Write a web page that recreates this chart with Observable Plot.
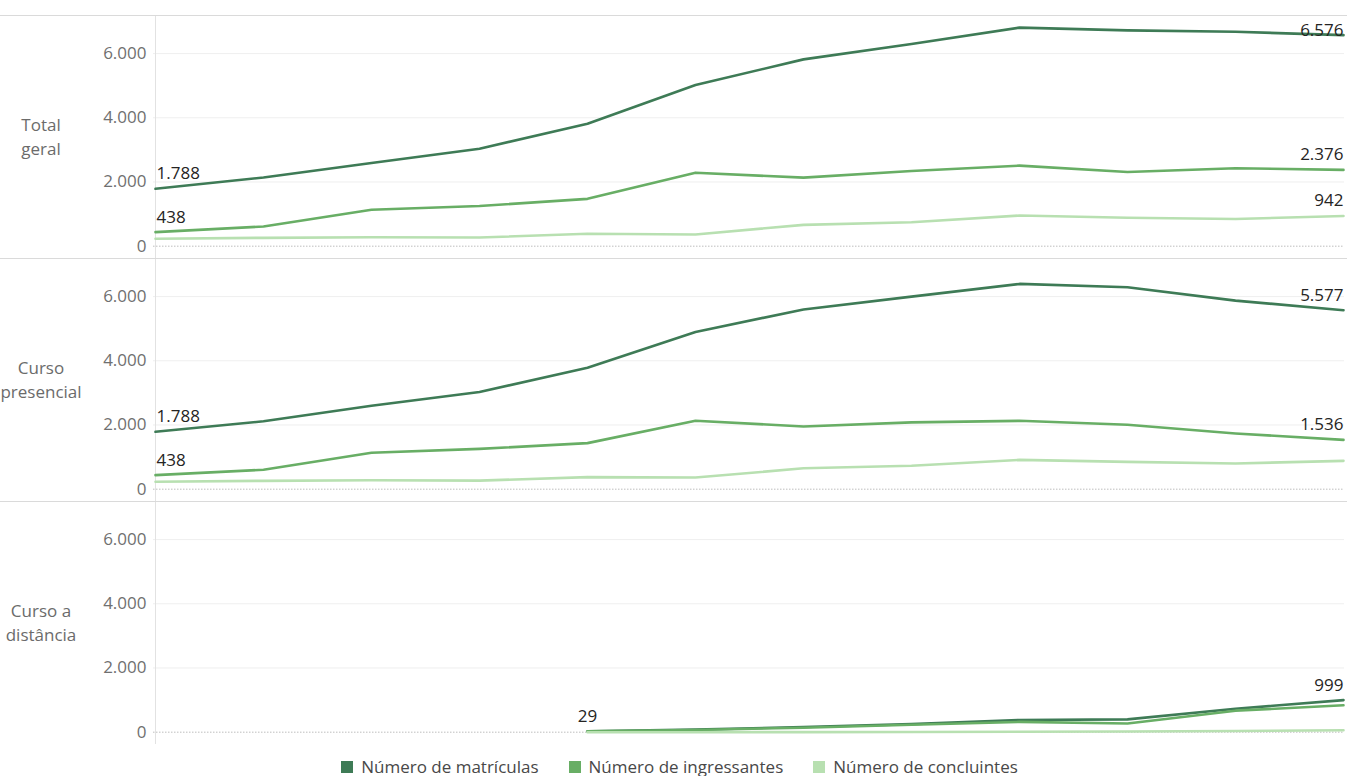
<!DOCTYPE html>
<html>
<head>
<meta charset="utf-8">
<script src="https://cdn.jsdelivr.net/npm/d3@7"></script>
<script src="https://cdn.jsdelivr.net/npm/@observablehq/plot@0.6"></script>
<style>
  html, body { margin: 0; padding: 0; background: #fff; }
  body { width: 1347px; height: 776px; overflow: hidden; font-family: "Open Sans", sans-serif; }
  #chart { padding-top: 15px; }
  .painel { position: relative; width: 1347px; height: 243px; }
  .painel .sep { position: absolute; top: 0; left: 0; width: 1347px; height: 1px; background: #dadada; z-index: 2; }
  .painel .rot { position: absolute; left: 0; width: 82px; top: 50%; transform: translateY(-50%); text-align: center; font-size: 17px; line-height: 24px; color: #6b6b6b; }
  .painel svg { position: absolute; top: 0; left: 0; }
  #legenda { display: flex; justify-content: center; align-items: center; margin-top: 12px; padding-left: 12px; font-size: 17px; color: #484848; line-height: 22px; }
  #legenda .item { display: flex; align-items: center; margin: 0 15px; }
  #legenda .q { width: 12px; height: 12px; margin-right: 8px; }
</style>
</head>
<body>
<div id="chart"></div>
<div id="legenda"></div>
<script>
// ---- dados ----
const anos = [2009, 2010, 2011, 2012, 2013, 2014, 2015, 2016, 2017, 2018, 2019, 2020];
const series = ["Número de matrículas", "Número de ingressantes", "Número de concluintes"];
const cores = ["#3e7b56", "#68ae65", "#b8e0b1"];
const paineis = ["Total geral", "Curso presencial", "Curso a distância"];
const rotulosPaineis = [["Total", "geral"], ["Curso", "presencial"], ["Curso a", "distância"]];

const totalMatriculas   = [1788, 2140, 2590, 3035, 3815, 5020, 5820, 6300, 6810, 6725, 6680, 6576];
const totalIngressantes = [438, 615, 1135, 1250, 1475, 2290, 2135, 2340, 2510, 2310, 2430, 2376];
const totalConcluintes  = [230, 260, 280, 270, 385, 365, 665, 745, 955, 885, 845, 942];

const presMatriculas   = [1788, 2115, 2600, 3030, 3780, 4900, 5600, 6000, 6395, 6290, 5875, 5577];
const presIngressantes = [438, 605, 1135, 1255, 1435, 2130, 1955, 2080, 2130, 2005, 1735, 1536];
const presConcluintes  = [230, 260, 280, 265, 375, 362, 650, 730, 912, 850, 800, 883];

const distMatriculas   = [null, null, null, null, 29, 80, 160, 250, 380, 400, 730, 999];
const distIngressantes = [null, null, null, null, 29, 70, 140, 230, 320, 270, 670, 840];
const distConcluintes  = [null, null, null, null, 0, 0, 2, 5, 15, 20, 35, 59];

const yTicks = [0, 2000, 4000, 6000];

// rótulos de dados exibidos: [painel, série, ano]
const rotulos = [
  ["Total geral", "Número de matrículas", 2009],
  ["Total geral", "Número de matrículas", 2020],
  ["Total geral", "Número de ingressantes", 2009],
  ["Total geral", "Número de ingressantes", 2020],
  ["Total geral", "Número de concluintes", 2020],
  ["Curso presencial", "Número de matrículas", 2009],
  ["Curso presencial", "Número de matrículas", 2020],
  ["Curso presencial", "Número de ingressantes", 2009],
  ["Curso presencial", "Número de ingressantes", 2020],
  ["Curso a distância", "Número de matrículas", 2013],
  ["Curso a distância", "Número de matrículas", 2020]
];

// ---- montagem ----
const valoresPorPainel = {
  "Total geral": [totalMatriculas, totalIngressantes, totalConcluintes],
  "Curso presencial": [presMatriculas, presIngressantes, presConcluintes],
  "Curso a distância": [distMatriculas, distIngressantes, distConcluintes]
};

const fmt = d3.formatLocale({decimal: ",", thousands: ".", grouping: [3], currency: ["R$", ""]}).format(",d");
const yDomain = [-384, 7187];
const pxPorUnidade = 243 / (yDomain[1] - yDomain[0]);
const deslocRotulo = 15 / pxPorUnidade;
const limiteRotulo = yDomain[1] - 15 / pxPorUnidade;

const chart = document.getElementById("chart");

paineis.forEach((painel, pi) => {
  const linhas = [];
  valoresPorPainel[painel].forEach((vals, si) => {
    vals.forEach((v, i) => {
      if (v !== null) linhas.push({painel, serie: series[si], ano: anos[i], valor: v});
    });
  });
  const rot = rotulos
    .filter(r => r[0] === painel)
    .map(r => linhas.find(d => d.serie === r[1] && d.ano === r[2]));
  const ancora = d => d.ano === anos[0] ? "start" : d.ano === anos[anos.length - 1] ? "end" : "middle";

  const textOpts = anchor => ({
    x: "ano",
    y: d => Math.min(d.valor + deslocRotulo, limiteRotulo),
    text: d => fmt(d.valor),
    textAnchor: anchor,
    dx: anchor === "start" ? 1 : 0,
    fill: "#252423",
    fontSize: 17
  });

  const plot = Plot.plot({
    width: 1347,
    height: 243,
    marginTop: 0,
    marginBottom: 0,
    marginLeft: 153,
    marginRight: 3,
    style: {fontFamily: "Open Sans", fontSize: "17px", color: "#707070", background: "transparent", overflow: "visible"},
    x: {type: "point", domain: anos, padding: 0, axis: null},
    y: {domain: yDomain, ticks: yTicks, tickFormat: fmt, tickSize: 0, tickPadding: 7, label: null},
    color: {domain: series, range: cores},
    marks: [
      Plot.ruleY(yTicks.filter(t => t > 0), {stroke: "#efefef"}),
      Plot.ruleY([0], {stroke: "#bdbdbd", strokeDasharray: "1.5,1.5"}),
      Plot.ruleX([anos[0]], {stroke: "#e2e2e2"}),
      Plot.lineY(linhas, {x: "ano", y: "valor", z: "serie", stroke: "serie", strokeWidth: 2.6}),
      Plot.text(rot.filter(d => ancora(d) === "start"), textOpts("start")),
      Plot.text(rot.filter(d => ancora(d) === "middle"), textOpts("middle")),
      Plot.text(rot.filter(d => ancora(d) === "end"), textOpts("end"))
    ]
  });

  const div = document.createElement("div");
  div.className = "painel";
  const sep = document.createElement("div");
  sep.className = "sep";
  const lab = document.createElement("div");
  lab.className = "rot";
  lab.innerHTML = rotulosPaineis[pi].join("<br>");
  div.appendChild(plot);
  div.appendChild(sep);
  div.appendChild(lab);
  chart.appendChild(div);
});

const leg = document.getElementById("legenda");
series.forEach((s, i) => {
  const it = document.createElement("div");
  it.className = "item";
  it.innerHTML = `<span class="q" style="background:${cores[i]}"></span><span>${s}</span>`;
  leg.appendChild(it);
});
</script>
</body>
</html>
